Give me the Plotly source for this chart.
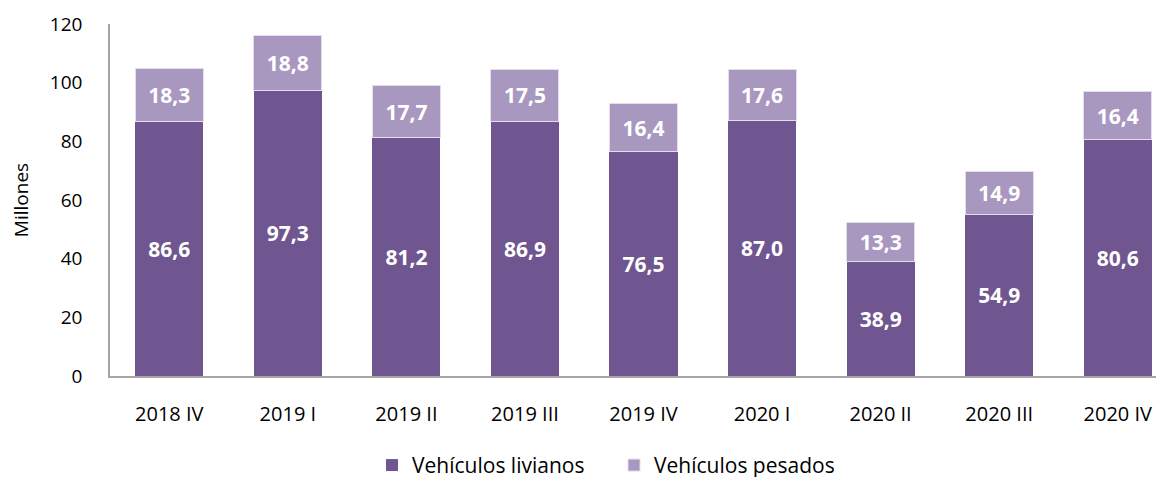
import plotly.graph_objects as go

categories = ["2018 IV", "2019 I", "2019 II", "2019 III", "2019 IV", "2020 I", "2020 II", "2020 III", "2020 IV"]
livianos = [86.6, 97.3, 81.2, 86.9, 76.5, 87.0, 38.9, 54.9, 80.6]
pesados = [18.3, 18.8, 17.7, 17.5, 16.4, 17.6, 13.3, 14.9, 16.4]
y_ticks = [0, 20, 40, 60, 80, 100, 120]

FONT = "Open Sans, sans-serif"
LABEL_FONT = dict(color="white", size=21, family=FONT, weight="bold")

fig = go.Figure()
fig.add_trace(go.Bar(
    x=categories, y=livianos, name="Vehículos livianos",
    marker=dict(color="#6F5690", line=dict(width=0)),
    texttemplate="%{y:.1f}", textposition="inside", insidetextanchor="middle",
    textangle=0, textfont=LABEL_FONT,
))
fig.add_trace(go.Bar(
    x=categories, y=pesados, name="Vehículos pesados",
    marker=dict(color="#A898BF", line=dict(color="#E4DEEC", width=1)),
    texttemplate="%{y:.1f}", textposition="inside", insidetextanchor="middle",
    textangle=0, textfont=LABEL_FONT,
))

# The page body has an 8px margin; the figure is sized to fill the rest of the window.
fig.update_layout(
    barmode="stack", bargap=0.426,
    separators=",.",
    width=1156, height=469,
    margin=dict(l=102, r=0, t=16, b=101, autoexpand=False),
    plot_bgcolor="white", paper_bgcolor="white",
    font=dict(family=FONT, size=19, color="#000000"),
    uniformtext=dict(mode="show", minsize=21),
    legend=dict(orientation="h", x=0.2486, xanchor="left", y=-0.254, yanchor="middle",
                font=dict(size=21), itemwidth=30, traceorder="normal",
                entrywidthmode="pixels", entrywidth=197),
    showlegend=True,
)
fig.update_xaxes(showline=True, linecolor="#A6A6A6", linewidth=1.5, ticks="",
                 range=[-0.5, 8.39],
                 ticklabelstandoff=19, showgrid=False, tickfont=dict(size=20))
fig.update_yaxes(range=[0, 120], tickvals=y_ticks, showline=True, linecolor="#A6A6A6",
                 linewidth=1.5, showgrid=False, zeroline=False, ticks="",
                 ticklabelstandoff=22, tickfont=dict(size=19),
                 title=dict(text="Millones", font=dict(size=19), standoff=20))

fig.write_html("out.html")
